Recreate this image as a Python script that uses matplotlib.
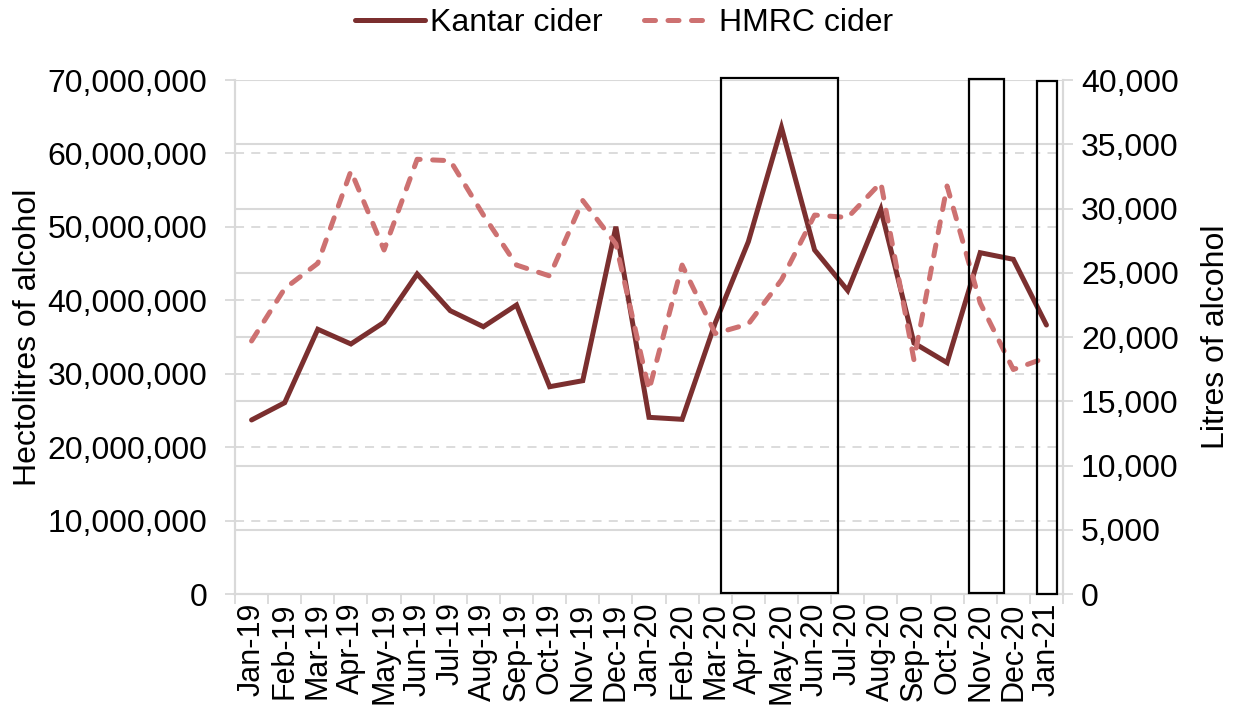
import matplotlib
matplotlib.use("Agg")
import matplotlib.pyplot as plt
import matplotlib.transforms as mtransforms
from matplotlib.patches import Rectangle
from matplotlib.ticker import FuncFormatter, FixedLocator

plt.rcParams['font.family'] = ['Liberation Sans', 'DejaVu Sans']

months = ["Jan-19", "Feb-19", "Mar-19", "Apr-19", "May-19", "Jun-19", "Jul-19",
          "Aug-19", "Sep-19", "Oct-19", "Nov-19", "Dec-19", "Jan-20", "Feb-20",
          "Mar-20", "Apr-20", "May-20", "Jun-20", "Jul-20", "Aug-20", "Sep-20",
          "Oct-20", "Nov-20", "Dec-20", "Jan-21"]

kantar_cider = [23.70e6, 26.05e6, 36.05e6, 34.05e6, 37.00e6, 43.58e6, 38.58e6,
                36.40e6, 39.36e6, 28.23e6, 29.05e6, 50.02e6, 24.06e6, 23.79e6,
                36.91e6, 47.98e6, 63.53e6, 46.85e6, 41.33e6, 52.39e6, 34.18e6,
                31.50e6, 46.48e6, 45.58e6, 36.63e6]

hmrc_cider = [19690, 23770, 25735, 32920, 26770, 33830, 33720, 29490, 25600,
              24750, 30620, 27240, 15875, 25600, 20270, 21010, 24440, 29490,
              29300, 32010, 18210, 31750, 22650, 17470, 18400]

left_ticks = [0, 10e6, 20e6, 30e6, 40e6, 50e6, 60e6, 70e6]
right_ticks = [0, 5000, 10000, 15000, 20000, 25000, 30000, 35000, 40000]

kantar_color = '#7b2f2f'
hmrc_color = '#cd7171'
grid_color = '#d9d9d9'
FS = 23

fig = plt.figure(figsize=(12.37, 7.17), dpi=100)
ax = fig.add_axes([235/1237, 1-594/717, (1063-235)/1237, (594-80)/717])
ax2 = ax.twinx()

x = list(range(len(months)))

# left axis
ax.set_xlim(-0.5, len(months) - 0.5)
ax.set_ylim(0, 70e6)
ax.yaxis.set_major_locator(FixedLocator(left_ticks))
ax.yaxis.set_major_formatter(FuncFormatter(lambda v, p: f"{int(v):,}"))
ax.set_ylabel("Hectolitres of alcohol", fontsize=FS, labelpad=3)

# right axis
ax2.set_ylim(0, 40000)
ax2.yaxis.set_major_locator(FixedLocator(right_ticks))
ax2.yaxis.set_major_formatter(FuncFormatter(lambda v, p: f"{int(v):,}"))
ax2.set_ylabel("Litres of alcohol", fontsize=FS, labelpad=16)

# gridlines: left dashed, right solid (both beneath data)
for v in left_ticks[1:]:
    ax.axhline(v, color=grid_color, lw=1.3, ls=(0, (5, 4)), zorder=0.5)
blend = mtransforms.blended_transform_factory(ax.transAxes, ax2.transData)
for v in right_ticks[1:]:
    ax.plot([0, 1], [v, v], transform=blend, color=grid_color, lw=1.5, zorder=0.4)

# x ticks between categories
ax.set_xticks([i - 0.5 for i in range(len(months) + 1)])
ax.set_xticklabels([])
ax.set_xticks(x, minor=True)
ax.set_xticklabels(months, minor=True, rotation=90, fontsize=22)
ax.tick_params(axis='x', which='minor', length=0, pad=6)
ax.tick_params(axis='x', which='major', length=7, color=grid_color, width=1.3)
ax.tick_params(axis='y', labelsize=FS, length=7, color=grid_color, width=1.3, pad=13)
ax2.tick_params(axis='y', labelsize=FS, length=7, color=grid_color, width=1.3, pad=6)

for a in (ax, ax2):
    a.spines['top'].set_visible(False)
    for s in ('left', 'right', 'bottom'):
        a.spines[s].set_color(grid_color)
        a.spines[s].set_linewidth(1.5)

# data
l1, = ax.plot(x, kantar_cider, color=kantar_color, lw=3.6, zorder=3,
              solid_capstyle='round', solid_joinstyle='miter', label="Kantar cider")
l2, = ax2.plot(x, hmrc_cider, color=hmrc_color, lw=3.6, zorder=3,
               dashes=(2.2, 2.5), dash_capstyle='round', label="HMRC cider")

# lockdown boxes (annotation shapes)
boxes = [(14.18, 17.72, 100, 40130), (21.67, 22.72, 70, 40080), (23.71, 24.31, 0, 39950)]
for x0, x1, y0, y1 in boxes:
    ax2.add_patch(Rectangle((x0, y0), x1 - x0, y1 - y0, fill=False,
                            edgecolor='black', lw=1.6, zorder=5, clip_on=False))

fig.legend(handles=[l1, l2], loc='center', bbox_to_anchor=(624/1237, 1-23/717),
           ncol=2, frameon=False, fontsize=FS, handlelength=2.2,
           handletextpad=0.15, columnspacing=1.3)

fig.savefig("out.png", dpi=100)
